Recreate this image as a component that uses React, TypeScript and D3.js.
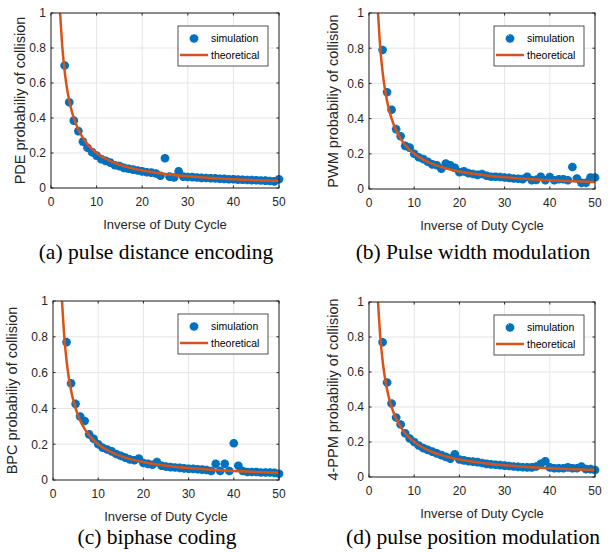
import * as d3 from "d3";
import { useEffect, useRef } from "react";

// simulated collision probability, x = inverse of duty cycle 3..50
const xSim = [
  3, 4, 5, 6, 7, 8, 9, 10, 11, 12, 13, 14, 15, 16, 17, 18, 19, 20, 21, 22, 23, 24, 25, 26,
  27, 28, 29, 30, 31, 32, 33, 34, 35, 36, 37, 38, 39, 40, 41, 42, 43, 44, 45, 46, 47, 48, 49, 50,
];
const pdeSim = [
  0.7, 0.49, 0.385, 0.325, 0.265, 0.23, 0.205, 0.185, 0.165, 0.155, 0.145, 0.13, 0.125, 0.115, 0.11, 0.105,
  0.1, 0.095, 0.09, 0.088, 0.083, 0.07, 0.17, 0.065, 0.06, 0.095, 0.065, 0.063, 0.062, 0.06, 0.058, 0.057,
  0.056, 0.055, 0.053, 0.052, 0.05, 0.05, 0.048, 0.047, 0.046, 0.045, 0.044, 0.043, 0.042, 0.04, 0.038, 0.05,
];
const pwmSim = [
  0.79, 0.55, 0.45, 0.34, 0.3, 0.245, 0.235, 0.2, 0.18, 0.17, 0.155, 0.14, 0.135, 0.115, 0.145, 0.135,
  0.12, 0.095, 0.1, 0.09, 0.085, 0.08, 0.085, 0.075, 0.07, 0.07, 0.068, 0.065, 0.063, 0.06, 0.058, 0.056,
  0.07, 0.05, 0.052, 0.07, 0.05, 0.068, 0.05, 0.055, 0.055, 0.05, 0.125, 0.06, 0.035, 0.035, 0.065, 0.065,
];
const bpcSim = [
  0.77, 0.54, 0.425, 0.355, 0.33, 0.255, 0.23, 0.2, 0.18, 0.17, 0.16, 0.145, 0.135, 0.125, 0.115, 0.11,
  0.12, 0.095, 0.09, 0.085, 0.1, 0.08, 0.075, 0.072, 0.07, 0.068, 0.065, 0.063, 0.062, 0.06, 0.058, 0.056,
  0.05, 0.09, 0.05, 0.09, 0.05, 0.205, 0.08, 0.05, 0.045, 0.045, 0.045, 0.042, 0.042, 0.042, 0.04, 0.035,
];
const ppmSim = [
  0.77, 0.54, 0.42, 0.34, 0.3, 0.25, 0.22, 0.2, 0.18, 0.165, 0.155, 0.145, 0.135, 0.125, 0.115, 0.105,
  0.13, 0.1, 0.095, 0.09, 0.088, 0.085, 0.08, 0.075, 0.072, 0.07, 0.068, 0.065, 0.063, 0.06, 0.058, 0.056,
  0.055, 0.055, 0.06, 0.075, 0.09, 0.055, 0.05, 0.05, 0.05, 0.055, 0.05, 0.05, 0.06, 0.045, 0.045, 0.04,
];

// theoretical curve
const xTheory = [2, 2.5, 3, 3.5, 4, 4.5, 5, 6, 7, 8, 9, 10, 12, 14, 16, 18, 20, 23, 26, 30, 35, 40, 45, 50];
const yTheory = [
  1, 0.8, 0.667, 0.571, 0.5, 0.444, 0.4, 0.333, 0.286, 0.25, 0.222, 0.2, 0.167, 0.143, 0.125, 0.111,
  0.1, 0.087, 0.077, 0.0667, 0.0571, 0.05, 0.0444, 0.04,
];

const xTicks = [0, 10, 20, 30, 40, 50];
const yTicks = [0, 0.2, 0.4, 0.6, 0.8, 1];
const yTickLabels = ["0", "0.2", "0.4", "0.6", "0.8", "1"];

const simSeries = [pdeSim, pwmSim, bpcSim, ppmSim];
const yLabels = [
  "PDE probabiliy of collision",
  "PWM probabiliy of collision",
  "BPC probabiliy of collision",
  "4-PPM probabiliy of collision",
];
const captions = [
  "(a) pulse distance encoding",
  "(b) Pulse width modulation",
  "(c) biphase coding",
  "(d) pulse position modulation",
];

// panel layout (plot box in page pixels)
const panels = [
  { l: 51, r: 279, t: 13, b: 188, ylx: 25, capY: 259 },
  { l: 369, r: 595, t: 13, b: 189, ylx: 338, capY: 259 },
  { l: 53, r: 279, t: 301, b: 480, ylx: 17, capY: 544 },
  { l: 369, r: 595, t: 302, b: 477, ylx: 338, capY: 544 },
];

const BLUE = "#0072BD";
const ORANGE = "#D95319";
const AXIS = "#262626";

function starPath(r: number) {
  const a = r * 0.707;
  return `M${-r},0L${r},0M0,${-r}L0,${r}M${-a},${-a}L${a},${a}M${-a},${a}L${a},${-a}`;
}

export default function App() {
  const svgRef = useRef<SVGSVGElement>(null);

  useEffect(() => {
    const svg = d3.select(svgRef.current);
    svg.selectAll("*").remove();

    svg.append("rect").attr("width", 612).attr("height", 553).attr("fill", "white");

    panels.forEach((p, i) => {
      const x = d3.scaleLinear().domain([0, 50]).range([p.l, p.r]);
      const y = d3.scaleLinear().domain([0, 1]).range([p.b, p.t]);
      const g = svg.append("g");

      // grid
      g.selectAll(".gx")
        .data(xTicks)
        .join("line")
        .attr("x1", (d) => x(d))
        .attr("x2", (d) => x(d))
        .attr("y1", p.t)
        .attr("y2", p.b)
        .attr("stroke", "#e5e5e5")
        .attr("stroke-width", 1);
      g.selectAll(".gy")
        .data(yTicks)
        .join("line")
        .attr("x1", p.l)
        .attr("x2", p.r)
        .attr("y1", (d) => y(d))
        .attr("y2", (d) => y(d))
        .attr("stroke", "#e5e5e5")
        .attr("stroke-width", 1);

      // simulation markers
      const sim = simSeries[i];
      g.selectAll(".sim")
        .data(xSim.map((xv, k) => [xv, sim[k]]))
        .join("path")
        .attr("transform", (d) => `translate(${x(d[0])},${y(d[1])})`)
        .attr("d", starPath(4.3))
        .attr("stroke", BLUE)
        .attr("stroke-width", 2.8)
        .attr("fill", "none");

      // theoretical curve
      const line = d3
        .line<number>()
        .x((d, k) => x(xTheory[k]))
        .y((d) => y(d))
        .curve(d3.curveMonotoneX);
      g.append("path")
        .attr("d", line(yTheory))
        .attr("fill", "none")
        .attr("stroke", ORANGE)
        .attr("stroke-width", 2.5);

      // axes box
      g.append("rect")
        .attr("x", p.l)
        .attr("y", p.t)
        .attr("width", p.r - p.l)
        .attr("height", p.b - p.t)
        .attr("fill", "none")
        .attr("stroke", AXIS)
        .attr("stroke-width", 1);

      // ticks (inward, both sides)
      xTicks.forEach((t) => {
        g.append("line").attr("x1", x(t)).attr("x2", x(t)).attr("y1", p.b).attr("y2", p.b - 2.5).attr("stroke", AXIS);
        g.append("line").attr("x1", x(t)).attr("x2", x(t)).attr("y1", p.t).attr("y2", p.t + 2.5).attr("stroke", AXIS);
      });
      yTicks.forEach((t) => {
        g.append("line").attr("x1", p.l).attr("x2", p.l + 2.5).attr("y1", y(t)).attr("y2", y(t)).attr("stroke", AXIS);
        g.append("line").attr("x1", p.r).attr("x2", p.r - 2.5).attr("y1", y(t)).attr("y2", y(t)).attr("stroke", AXIS);
      });

      const font = "Liberation Sans, Arial, sans-serif";

      g.selectAll(".xt")
        .data(xTicks)
        .join("text")
        .attr("x", (d) => x(d))
        .attr("y", p.b + 18)
        .attr("text-anchor", "middle")
        .attr("font-family", font)
        .attr("font-size", 12)
        .attr("fill", AXIS)
        .text((d) => String(d));

      g.selectAll(".yt")
        .data(yTicks)
        .join("text")
        .attr("x", p.l - 5)
        .attr("y", (d) => y(d))
        .attr("dy", "0.36em")
        .attr("text-anchor", "end")
        .attr("font-family", font)
        .attr("font-size", 12)
        .attr("fill", AXIS)
        .text((d, k) => yTickLabels[k]);

      g.append("text")
        .attr("x", (p.l + p.r) / 2)
        .attr("y", p.b + 41)
        .attr("text-anchor", "middle")
        .attr("font-family", font)
        .attr("font-size", 13)
        .attr("fill", AXIS)
        .text("Inverse of Duty Cycle");

      g.append("text")
        .attr("transform", `translate(${p.ylx},${(p.t + p.b) / 2}) rotate(-90)`)
        .attr("text-anchor", "middle")
        .attr("font-family", font)
        .attr("font-size", 14.5)
        .attr("fill", AXIS)
        .text(yLabels[i]);

      // legend
      const lw = 90;
      const lx = p.r - 11 - lw;
      const ly = p.t + 13;
      const lg = g.append("g");
      lg.append("rect")
        .attr("x", lx)
        .attr("y", ly)
        .attr("width", lw)
        .attr("height", 40)
        .attr("fill", "white")
        .attr("stroke", AXIS)
        .attr("stroke-width", 0.8);
      lg.append("path")
        .attr("transform", `translate(${lx + 16},${ly + 12.5})`)
        .attr("d", starPath(4.3))
        .attr("stroke", BLUE)
        .attr("stroke-width", 2.8)
        .attr("fill", "none");
      lg.append("line")
        .attr("x1", lx + 2)
        .attr("x2", lx + 30)
        .attr("y1", ly + 29)
        .attr("y2", ly + 29)
        .attr("stroke", ORANGE)
        .attr("stroke-width", 2.5);
      ["simulation", "theoretical"].forEach((s, k) => {
        lg.append("text")
          .attr("x", lx + 33)
          .attr("y", ly + 12.5 + k * 16.5)
          .attr("dy", "0.35em")
          .attr("font-family", font)
          .attr("font-size", 10.5)
          .attr("fill", "#000")
          .text(s);
      });

      // caption
      svg.append("text")
        .attr("x", (p.l + p.r) / 2 - 9)
        .attr("y", p.capY)
        .attr("text-anchor", "middle")
        .attr("font-family", "Liberation Serif, Times New Roman, serif")
        .attr("font-size", 21.5)
        .attr("fill", "#000")
        .text(captions[i]);
    });
  }, []);

  return (
    <svg
      ref={svgRef}
      width={612}
      height={553}
      style={{ position: "absolute", left: 0, top: 0 }}
    />
  );
}
